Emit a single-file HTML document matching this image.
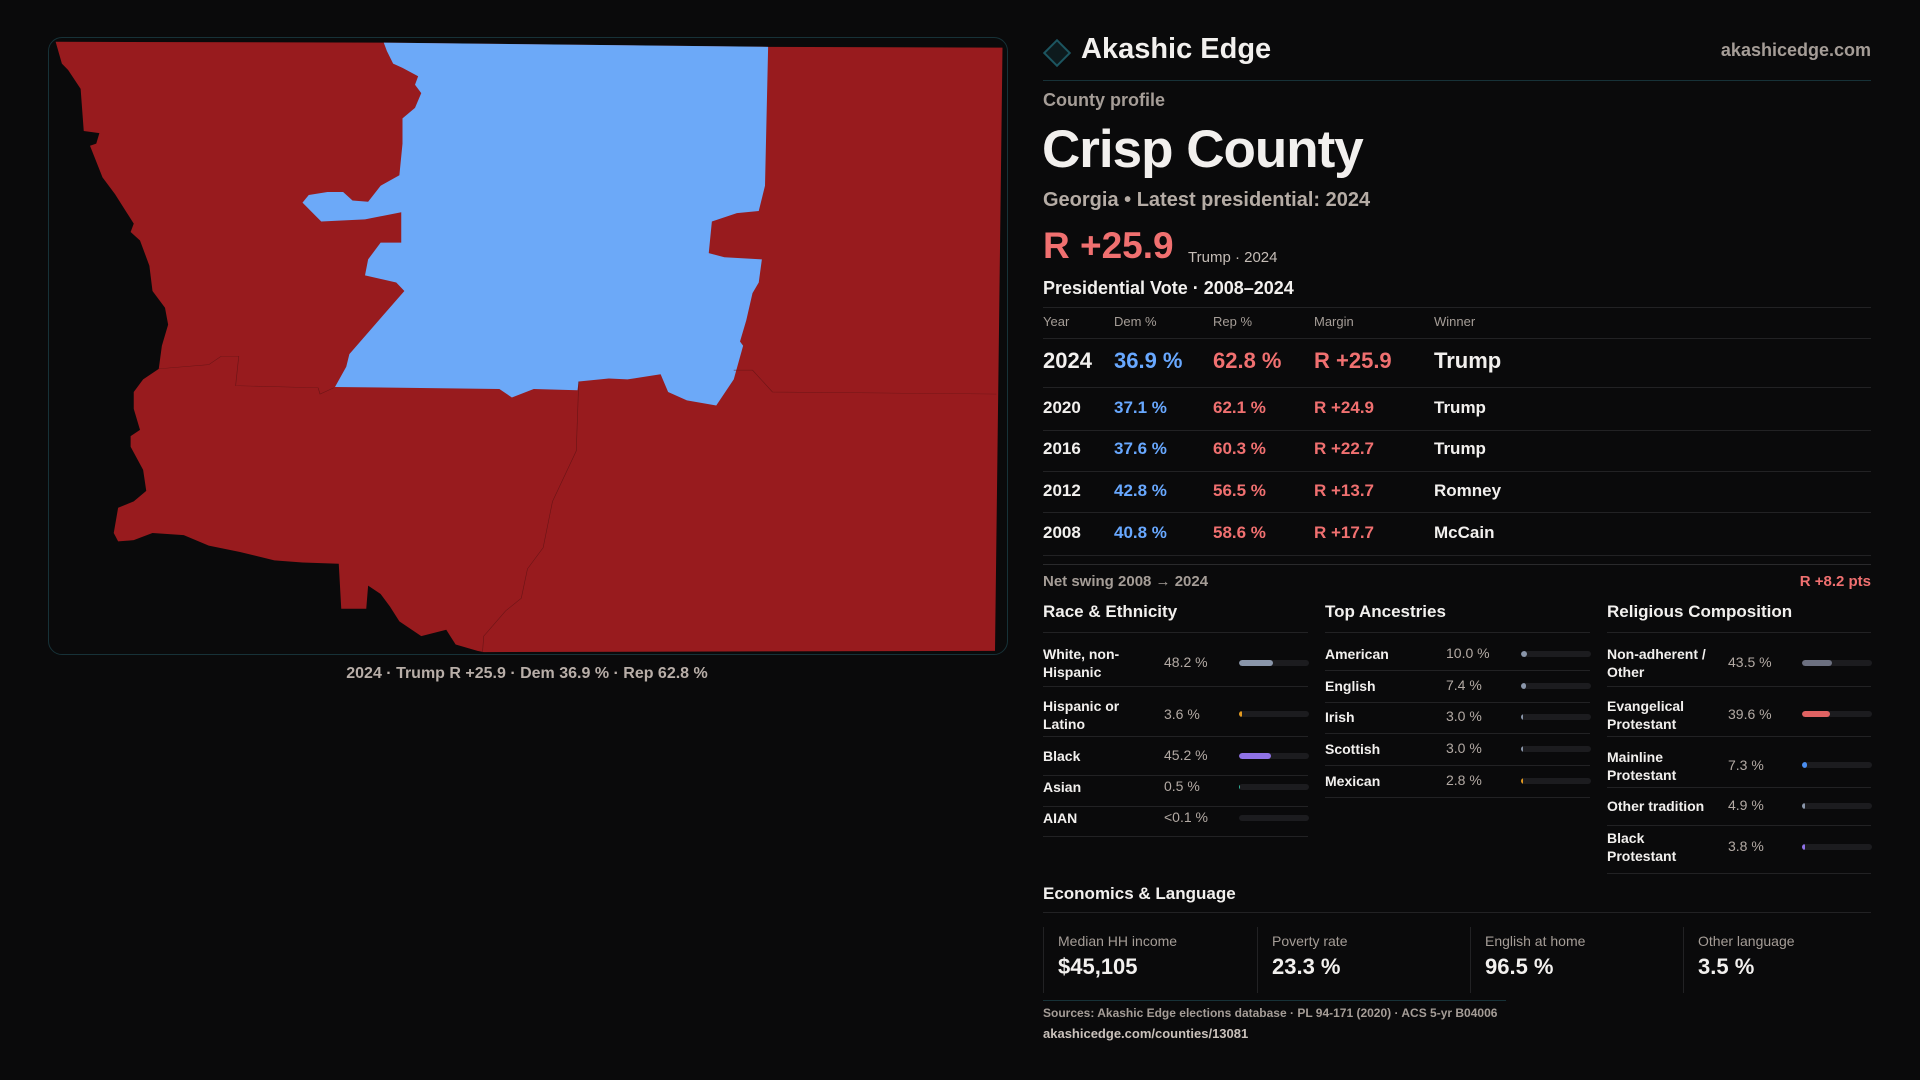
<!DOCTYPE html>
<html><head><meta charset="utf-8"><style>
*{margin:0;padding:0;box-sizing:border-box}
body{width:1920px;height:1080px;background:#0a0a0b;font-family:"Liberation Sans",sans-serif;color:#f2f0ee;position:relative;overflow:hidden}
.a{position:absolute;white-space:nowrap}
.g{color:#a59d97}
.r{color:#f07070}.b{color:#68a8ff}
.hl{position:absolute;height:1px;background:#222224}
.sec{font-weight:bold;font-size:17px}
.lbl{font-size:14px;font-weight:bold;line-height:18px}
.val{font-size:14px;color:#b3aaa4}
.tr{position:absolute;height:6px;width:70px;background:#1c1c1f;border-radius:3px;overflow:hidden}
.tr i{display:block;height:6px;border-radius:3px}
.card{position:absolute;top:927px;height:66px;border-left:1px solid #222224;padding-left:14px}
</style></head><body>
<div class="a" style="left:48px;top:37px;width:960px;height:618px;border:1px solid #173238;border-radius:14px"></div>
<svg class="a" style="left:40px;top:30px" width="980" height="660" viewBox="0 0 1568 1568" preserveAspectRatio="none">
<polygon fill="#981b1e" points="25,28 550,30 1165,40 1540,42 1528,1475 710,1478 700,1475 665,1460 650,1425 610,1440 575,1405 560,1370 545,1340 525,1320 522,1375 482,1375 478,1268 420,1265 375,1260 320,1240 270,1225 230,1200 180,1195 150,1212 125,1215 118,1195 125,1135 150,1120 170,1095 165,1045 145,990 145,965 160,950 150,900 150,860 165,830 190,805 195,750 205,700 200,660 180,620 175,560 160,500 145,480 150,460 120,390 100,350 80,275 90,270 95,245 70,240 65,140 45,95 35,80"/>
<polygon fill="#6ca9f8" points="550,30 1165,40 1160,370 1150,430 1115,435 1075,455 1070,530 1095,540 1155,545 1150,600 1140,625 1130,690 1120,740 1125,750 1110,830 1082,892 1035,880 1005,860 993,818 940,830 910,828 862,835 860,856 790,853 755,873 735,853 472,848 490,800 495,770 583,620 570,600 520,583 525,545 545,505 578,505 578,433 520,450 450,455 440,440 420,410 430,392 460,385 485,385 500,405 525,408 545,370 575,345 580,270 580,210 600,185 610,150 600,130 605,110 580,90 565,80 555,50"/>
<g fill="none" stroke="#6a1416" stroke-width="1">
<polyline points="190,805 270,795 290,775 318,775 313,845 445,850 448,865 470,850"/>
<polyline points="862,835 858,1000 820,1120 805,1230 780,1280 770,1350 745,1380 710,1440 708,1478"/>
<polyline points="1110,808 1140,808 1172,860 1530,865"/>
</g>
</svg>
<div class="a g" style="left:0;width:1054px;text-align:center;top:665px;font-size:16px;font-weight:bold;color:#b8aea8">2024 · Trump R +25.9 · Dem 36.9 % · Rep 62.8 %</div>

<div class="a" style="left:1047px;top:43px;width:20px;height:20px;border:2px solid #1c5560;background:#0d1a1d;transform:rotate(45deg)"></div>
<div class="a" style="left:1081px;top:33px;font-size:29px;font-weight:bold">Akashic Edge</div>
<div class="a g" style="right:49px;top:40px;font-size:18px;font-weight:bold">akashicedge.com</div>
<div class="hl" style="left:1043px;width:828px;top:80px;background:#173238"></div>
<div class="a g" style="left:1043px;top:90px;font-size:18px;font-weight:bold">County profile</div>
<div class="a" style="left:1042px;top:119px;font-size:53px;font-weight:bold;letter-spacing:-1px">Crisp County</div>
<div class="a" style="left:1043px;top:189px;font-size:20px;font-weight:bold;color:#b5aca5">Georgia • Latest presidential: 2024</div>
<div class="a r" style="left:1043px;top:225px;font-size:37px;font-weight:bold">R +25.9</div>
<div class="a" style="left:1188px;top:249px;font-size:15px;color:#c5bdb7">Trump · 2024</div>
<div class="a" style="left:1043px;top:278px;font-size:18px;font-weight:bold">Presidential Vote · 2008–2024</div>
<div class="hl" style="left:1043px;width:828px;top:307px"></div>
<div class="a g" style="left:1043px;top:314px;font-size:13px">Year</div>
<div class="a g" style="left:1114px;top:314px;font-size:13px">Dem %</div>
<div class="a g" style="left:1213px;top:314px;font-size:13px">Rep %</div>
<div class="a g" style="left:1314px;top:314px;font-size:13px">Margin</div>
<div class="a g" style="left:1434px;top:314px;font-size:13px">Winner</div>
<div class="hl" style="left:1043px;width:828px;top:338px"></div>
<div style="font-size:22px;font-weight:bold">
<div class="a" style="left:1043px;top:348px">2024</div><div class="a b" style="left:1114px;top:348px">36.9 %</div><div class="a r" style="left:1213px;top:348px">62.8 %</div><div class="a r" style="left:1314px;top:348px">R +25.9</div><div class="a" style="left:1434px;top:348px">Trump</div></div>
<div class="hl" style="left:1043px;width:828px;top:387px"></div>
<div style="font-size:17px;font-weight:bold">
<div class="a" style="left:1043px;top:398px">2020</div><div class="a b" style="left:1114px;top:398px">37.1 %</div><div class="a r" style="left:1213px;top:398px">62.1 %</div><div class="a r" style="left:1314px;top:398px">R +24.9</div><div class="a" style="left:1434px;top:398px">Trump</div>
<div class="a" style="left:1043px;top:439px">2016</div><div class="a b" style="left:1114px;top:439px">37.6 %</div><div class="a r" style="left:1213px;top:439px">60.3 %</div><div class="a r" style="left:1314px;top:439px">R +22.7</div><div class="a" style="left:1434px;top:439px">Trump</div>
<div class="a" style="left:1043px;top:481px">2012</div><div class="a b" style="left:1114px;top:481px">42.8 %</div><div class="a r" style="left:1213px;top:481px">56.5 %</div><div class="a r" style="left:1314px;top:481px">R +13.7</div><div class="a" style="left:1434px;top:481px">Romney</div>
<div class="a" style="left:1043px;top:523px">2008</div><div class="a b" style="left:1114px;top:523px">40.8 %</div><div class="a r" style="left:1213px;top:523px">58.6 %</div><div class="a r" style="left:1314px;top:523px">R +17.7</div><div class="a" style="left:1434px;top:523px">McCain</div></div>
<div class="hl" style="left:1043px;width:828px;top:430px"></div>
<div class="hl" style="left:1043px;width:828px;top:471px"></div>
<div class="hl" style="left:1043px;width:828px;top:512px"></div>
<div class="hl" style="left:1043px;width:828px;top:555px"></div>
<div class="hl" style="left:1043px;width:828px;top:564px;background:#2a2a2c"></div>
<div class="a g" style="left:1043px;top:573px;font-size:15px;font-weight:bold">Net swing 2008 → 2024</div>
<div class="a r" style="right:49px;top:573px;font-size:15px;font-weight:bold">R +8.2 pts</div>

<div class="a sec" style="left:1043px;top:602px">Race &amp; Ethnicity</div>
<div class="a sec" style="left:1325px;top:602px">Top Ancestries</div>
<div class="a sec" style="left:1607px;top:602px">Religious Composition</div>
<div class="hl" style="left:1043px;width:265px;top:632px"></div>
<div class="hl" style="left:1325px;width:265px;top:632px"></div>
<div class="hl" style="left:1607px;width:264px;top:632px"></div>

<div class="a lbl" style="left:1043px;top:645px">White, non-<br>Hispanic</div><div class="a val" style="left:1164px;top:654px">48.2 %</div><div class="tr" style="left:1239px;top:660px"><i style="width:48%;background:#8a96aa"></i></div>
<div class="hl" style="left:1043px;width:265px;top:686px"></div>
<div class="a lbl" style="left:1043px;top:697px">Hispanic or<br>Latino</div><div class="a val" style="left:1164px;top:706px">3.6 %</div><div class="tr" style="left:1239px;top:711px"><i style="width:3px;background:#e39a20"></i></div>
<div class="hl" style="left:1043px;width:265px;top:736px"></div>
<div class="a lbl" style="left:1043px;top:747px">Black</div><div class="a val" style="left:1164px;top:747px">45.2 %</div><div class="tr" style="left:1239px;top:753px"><i style="width:45%;background:#8f72e6"></i></div>
<div class="hl" style="left:1043px;width:265px;top:775px"></div>
<div class="a lbl" style="left:1043px;top:778px">Asian</div><div class="a val" style="left:1164px;top:778px">0.5 %</div><div class="tr" style="left:1239px;top:784px"><i style="width:1px;background:#2fb39a"></i></div>
<div class="hl" style="left:1043px;width:265px;top:806px"></div>
<div class="a lbl" style="left:1043px;top:809px">AIAN</div><div class="a val" style="left:1164px;top:809px">&lt;0.1 %</div><div class="tr" style="left:1239px;top:815px"></div>
<div class="hl" style="left:1043px;width:265px;top:836px"></div>

<div class="a lbl" style="left:1325px;top:645px">American</div><div class="a val" style="left:1446px;top:645px">10.0 %</div><div class="tr" style="left:1521px;top:651px"><i style="width:6px;background:#8a96aa"></i></div>
<div class="hl" style="left:1325px;width:265px;top:670px"></div>
<div class="a lbl" style="left:1325px;top:677px">English</div><div class="a val" style="left:1446px;top:677px">7.4 %</div><div class="tr" style="left:1521px;top:683px"><i style="width:5px;background:#8a96aa"></i></div>
<div class="hl" style="left:1325px;width:265px;top:702px"></div>
<div class="a lbl" style="left:1325px;top:708px">Irish</div><div class="a val" style="left:1446px;top:708px">3.0 %</div><div class="tr" style="left:1521px;top:714px"><i style="width:2px;background:#8a96aa"></i></div>
<div class="hl" style="left:1325px;width:265px;top:733px"></div>
<div class="a lbl" style="left:1325px;top:740px">Scottish</div><div class="a val" style="left:1446px;top:740px">3.0 %</div><div class="tr" style="left:1521px;top:746px"><i style="width:2px;background:#8a96aa"></i></div>
<div class="hl" style="left:1325px;width:265px;top:765px"></div>
<div class="a lbl" style="left:1325px;top:772px">Mexican</div><div class="a val" style="left:1446px;top:772px">2.8 %</div><div class="tr" style="left:1521px;top:778px"><i style="width:2px;background:#e39a20"></i></div>
<div class="hl" style="left:1325px;width:265px;top:797px"></div>

<div class="a lbl" style="left:1607px;top:645px">Non-adherent /<br>Other</div><div class="a val" style="left:1728px;top:654px">43.5 %</div><div class="tr" style="left:1802px;top:660px"><i style="width:43%;background:#6c7080"></i></div>
<div class="hl" style="left:1607px;width:264px;top:686px"></div>
<div class="a lbl" style="left:1607px;top:697px">Evangelical<br>Protestant</div><div class="a val" style="left:1728px;top:706px">39.6 %</div><div class="tr" style="left:1802px;top:711px"><i style="width:40%;background:#e06262"></i></div>
<div class="hl" style="left:1607px;width:264px;top:736px"></div>
<div class="a lbl" style="left:1607px;top:748px">Mainline<br>Protestant</div><div class="a val" style="left:1728px;top:757px">7.3 %</div><div class="tr" style="left:1802px;top:762px"><i style="width:5px;background:#4a8ef0"></i></div>
<div class="hl" style="left:1607px;width:264px;top:787px"></div>
<div class="a lbl" style="left:1607px;top:797px">Other tradition</div><div class="a val" style="left:1728px;top:797px">4.9 %</div><div class="tr" style="left:1802px;top:803px"><i style="width:3px;background:#8a96aa"></i></div>
<div class="hl" style="left:1607px;width:264px;top:825px"></div>
<div class="a lbl" style="left:1607px;top:829px">Black<br>Protestant</div><div class="a val" style="left:1728px;top:838px">3.8 %</div><div class="tr" style="left:1802px;top:844px"><i style="width:3px;background:#8f72e6"></i></div>
<div class="hl" style="left:1607px;width:264px;top:873px"></div>

<div class="a sec" style="left:1043px;top:884px">Economics &amp; Language</div>
<div class="hl" style="left:1043px;width:828px;top:912px"></div>
<div class="card" style="left:1043px"><div class="g" style="font-size:14px;margin-top:6px">Median HH income</div><div style="font-size:22px;font-weight:bold;margin-top:5px">$45,105</div></div>
<div class="card" style="left:1257px"><div class="g" style="font-size:14px;margin-top:6px">Poverty rate</div><div style="font-size:22px;font-weight:bold;margin-top:5px">23.3 %</div></div>
<div class="card" style="left:1470px"><div class="g" style="font-size:14px;margin-top:6px">English at home</div><div style="font-size:22px;font-weight:bold;margin-top:5px">96.5 %</div></div>
<div class="card" style="left:1683px"><div class="g" style="font-size:14px;margin-top:6px">Other language</div><div style="font-size:22px;font-weight:bold;margin-top:5px">3.5 %</div></div>
<div class="hl" style="left:1043px;width:463px;top:1000px;background:#173238"></div>
<div class="a g" style="left:1043px;top:1006px;font-size:12px;font-weight:bold">Sources: Akashic Edge elections database · PL 94-171 (2020) · ACS 5-yr B04006</div>
<div class="a" style="left:1043px;top:1026px;font-size:13px;font-weight:bold;color:#c9c1bb">akashicedge.com/counties/13081</div>
</body></html>
